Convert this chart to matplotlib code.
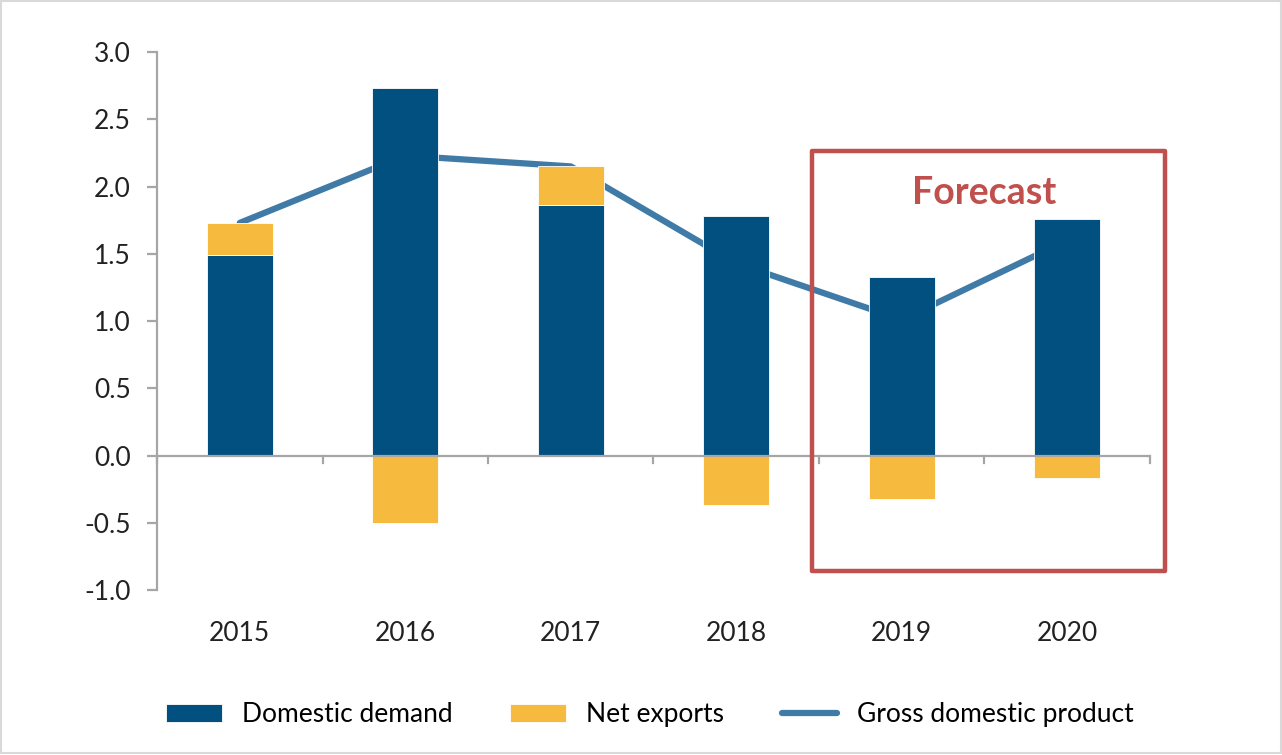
import matplotlib
matplotlib.use("Agg")
import matplotlib.pyplot as plt
from matplotlib.patches import Rectangle
import numpy as np

# --- chart data (percentage points / % growth) ---
YEARS = ["2015", "2016", "2017", "2018", "2019", "2020"]
DOMESTIC_DEMAND = [1.49, 2.73, 1.86, 1.78, 1.33, 1.76]
NET_EXPORTS = [0.24, -0.50, 0.29, -0.37, -0.32, -0.17]
GDP = [1.73, 2.23, 2.15, 1.43, 1.01, 1.60]
Y_TICKS = [-1.0, -0.5, 0.0, 0.5, 1.0, 1.5, 2.0, 2.5, 3.0]

# --- colours ---
BLUE = "#02507f"
YELLOW = "#f6bb3e"
LINE_BLUE = "#3f7ba6"
RED = "#c0504d"
AXIS_GREY = "#a6a6a6"

plt.rcParams["font.family"] = ["Lato", "DejaVu Sans"]

fig = plt.figure(figsize=(12.82, 7.55), dpi=100)
ax = fig.add_axes([0.1225, 0.2185, 0.7745, 0.7125])

x = np.arange(len(YEARS))
dom = np.array(DOMESTIC_DEMAND)
nx = np.array(NET_EXPORTS)
# net exports stack on top of domestic demand when positive, below zero when negative
nx_bottom = np.where(nx >= 0, dom, 0.0)

ax.plot(x, GDP, color=LINE_BLUE, lw=4.5, solid_capstyle="round", zorder=1,
        label="Gross domestic product")
ax.bar(x, dom, width=0.4, color=BLUE, edgecolor="white", linewidth=0.6, zorder=2,
       label="Domestic demand")
ax.bar(x, nx, bottom=nx_bottom, width=0.4, color=YELLOW, edgecolor="white",
       linewidth=0.6, zorder=2, label="Net exports")

ax.set_xlim(-0.5, len(YEARS) - 0.5)
ax.set_ylim(-1.0, 3.0)

# y axis
ax.set_yticks(Y_TICKS)
ax.set_yticklabels([f"{v:.1f}" for v in Y_TICKS])
for s in ["top", "right", "bottom"]:
    ax.spines[s].set_visible(False)
ax.spines["left"].set_color(AXIS_GREY)
ax.spines["left"].set_linewidth(1.6)
ax.tick_params(axis="y", length=7, width=1.6, color=AXIS_GREY, pad=12,
               labelsize=19, labelcolor="#222222")

# x axis drawn at zero with boundary ticks
ax.axhline(0, color=AXIS_GREY, lw=1.6, zorder=3)
for b in np.arange(-0.5, len(YEARS), 1.0):
    ax.plot([b, b], [0, -0.055], color=AXIS_GREY, lw=1.6, zorder=3, clip_on=False)
ax.set_xticks(x)
ax.set_xticklabels(YEARS)
ax.tick_params(axis="x", length=0, pad=22, labelsize=19, labelcolor="#222222")

# forecast box
ax.add_patch(Rectangle((3.455, -0.855), 2.135, 3.12, fill=False, edgecolor=RED,
                       lw=3.2, joinstyle="round", clip_on=False, zorder=4))
ax.text(4.5, 1.95, "Forecast", color=RED, fontsize=27, fontweight="bold",
        ha="center", va="center", zorder=5)

# legend below the plot
handles, labels = ax.get_legend_handles_labels()
order = [1, 2, 0]
fig.legend([handles[i] for i in order], [labels[i] for i in order],
           loc="center", bbox_to_anchor=(0.507, 0.053), ncol=3, frameon=False,
           fontsize=19, handlelength=2.1, handleheight=0.65, columnspacing=2.2,
           handletextpad=0.75)

# thin grey frame round the whole figure
fig.patches.append(Rectangle((0.001, 0.002), 0.998, 0.997, transform=fig.transFigure,
                             fill=False, edgecolor="#d9d9d9", lw=1.5))

fig.savefig("out.png", dpi=100)
